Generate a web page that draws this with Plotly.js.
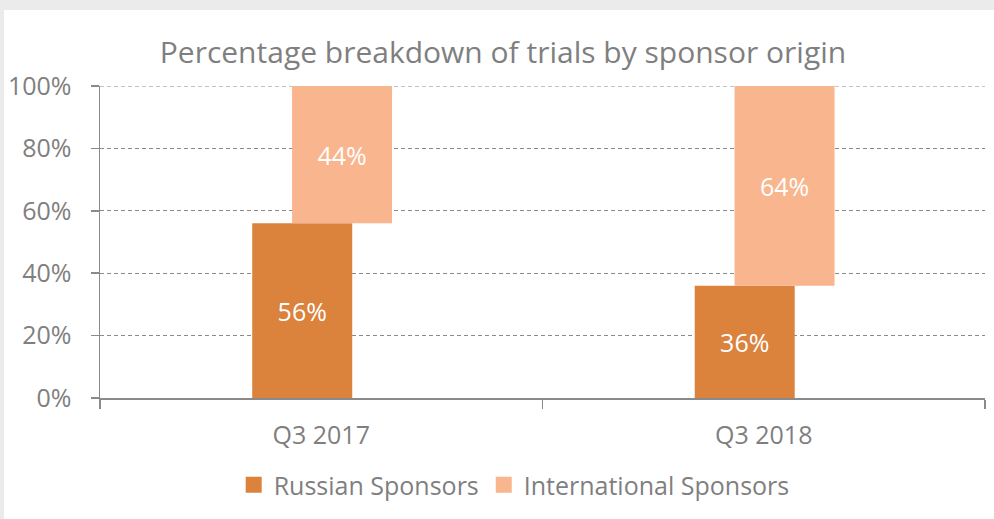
<!DOCTYPE html>
<html>
<head>
<meta charset="utf-8">
<script src="https://cdn.plot.ly/plotly-3.0.1.min.js"></script>
<style>
  html, body { margin: 0; padding: 0; background: #ebebeb; width: 994px; height: 519px; overflow: hidden; }
  #chart { position: absolute; left: 4px; top: 10px; width: 990px; height: 509px; background: #ffffff; }
</style>
</head>
<body>
<div id="chart"></div>
<script>
const categories = ["Q3 2017", "Q3 2018"];
const russianValues = [0.56, 0.36];
const internationalValues = [0.44, 0.64];
const seriesNames = ["Russian Sponsors", "International Sponsors"];
const yTickValues = [0, 0.2, 0.4, 0.6, 0.8, 1.0];
const yTickLabels = ["0%", "20%", "40%", "60%", "80%", "100%"];

const gray = "#7f7f7f";
const gridGray = "#8a8a8a";
const fontFamily = "'Open Sans', 'Noto Sans', sans-serif";
const pct = v => Math.round(v * 100) + "%";

const traces = [
  {
    type: "bar",
    name: seriesNames[0],
    x: categories,
    y: russianValues,
    width: 0.226,
    offset: -0.156,
    marker: { color: "#db823d" },
    text: russianValues.map(pct),
    textposition: "inside",
    insidetextanchor: "middle",
    textfont: { color: "#ffffff", size: 25, family: fontFamily },
    hoverinfo: "skip"
  },
  {
    type: "bar",
    name: seriesNames[1],
    x: categories,
    y: internationalValues,
    base: russianValues,
    width: 0.226,
    offset: -0.066,
    marker: { color: "#f8b58e" },
    text: internationalValues.map(pct),
    textposition: "inside",
    insidetextanchor: "middle",
    textfont: { color: "#ffffff", size: 25, family: fontFamily },
    hoverinfo: "skip"
  }
];

// top gridline (Plotly omits the grid line at the range edge)
const topGrid = yTickValues[yTickValues.length - 1];

const layout = {
  width: 990,
  height: 509,
  paper_bgcolor: "#ffffff",
  plot_bgcolor: "#ffffff",
  margin: { l: 96, r: 9, t: 76, b: 121, pad: 0 },
  barmode: "overlay",
  font: { family: fontFamily, color: gray, size: 25 },
  title: {
    text: "Percentage breakdown of trials by sponsor origin",
    font: { size: 30, color: gray, family: fontFamily },
    x: 0.504, xref: "container", xanchor: "center",
    y: 0.917, yref: "container", yanchor: "middle"
  },
  xaxis: {
    type: "category",
    range: [-0.5, 1.5],
    showline: true,
    linecolor: gridGray,
    linewidth: 1.5,
    ticks: "outside",
    tickson: "boundaries",
    ticklen: 9,
    tickcolor: gridGray,
    tickwidth: 1.5,
    showgrid: false,
    zeroline: false,
    tickfont: { size: 25, color: gray, family: fontFamily },
    ticklabelstandoff: 14
  },
  yaxis: {
    range: [0, 1],
    tickvals: yTickValues,
    ticktext: yTickLabels,
    showline: true,
    linecolor: gridGray,
    linewidth: 1.5,
    ticks: "outside",
    ticklen: 8,
    tickcolor: gridGray,
    tickwidth: 1.5,
    showgrid: true,
    gridcolor: gridGray,
    gridwidth: 1,
    griddash: "4px,3px",
    zeroline: false,
    tickfont: { size: 25, color: gray, family: fontFamily },
    ticklabelstandoff: 14
  },
  shapes: [
    {
      type: "line", layer: "below",
      xref: "paper", x0: 0, x1: 1,
      yref: "y", y0: topGrid, y1: topGrid,
      line: { color: gridGray, width: 1, dash: "4px,3px" }
    }
  ],
  legend: {
    orientation: "h",
    x: 0.468, xanchor: "center",
    y: -0.279, yanchor: "middle",
    font: { size: 25, color: gray, family: fontFamily },
    itemsizing: "constant",
    traceorder: "normal"
  },
  showlegend: true
};

Plotly.newPlot("chart", traces, layout, { displayModeBar: false, staticPlot: true }).then(gd => {
  gd.querySelectorAll(".legendpoints path").forEach(p => {
    p.setAttribute("d", "M8,8H-8V-8H8Z");
  });
});
</script>
</body>
</html>
